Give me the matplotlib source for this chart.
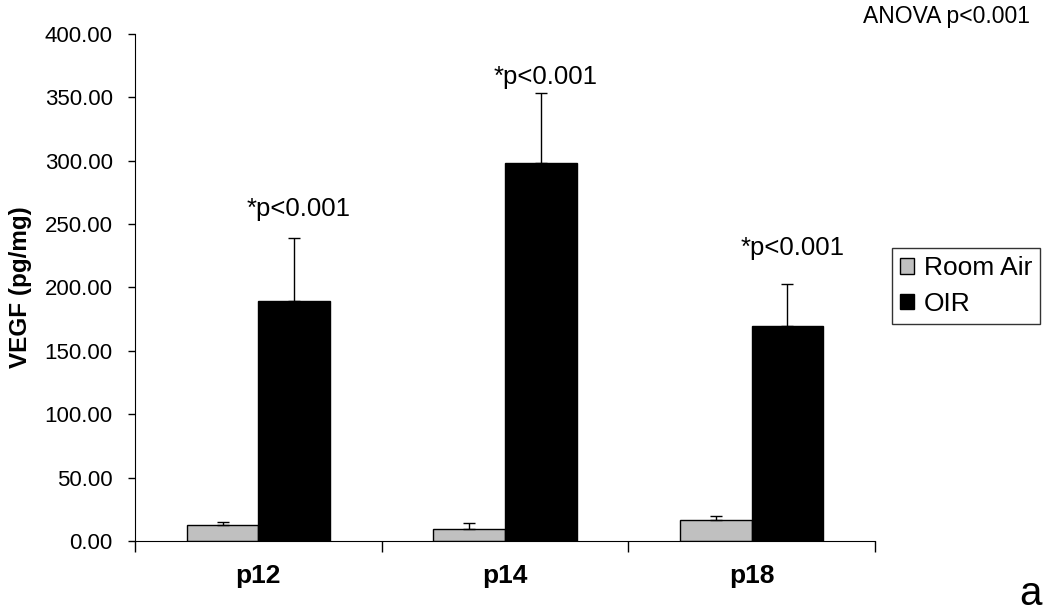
import matplotlib.pyplot as plt
import numpy as np

plt.rcParams['font.family'] = ['Liberation Sans', 'DejaVu Sans']

categories = ['p12', 'p14', 'p18']
room_air = [12.9, 9.2, 16.8]
room_air_err = [2.1, 4.8, 2.7]
oir = [189.6, 298.5, 169.8]
oir_err = [49.2, 55.2, 32.7]
sig_labels = ['*p<0.001', '*p<0.001', '*p<0.001']
sig_y = [262, 366, 231]
yticks = [0, 50, 100, 150, 200, 250, 300, 350, 400]

fig = plt.figure(figsize=(10.5, 6.11), dpi=100)
ax = fig.add_axes([0.1286, 0.1146, 0.7047, 0.8298])

x = np.arange(len(categories))
w = 0.29
ax.bar(x - w / 2, room_air, w, color='#c0c0c0', edgecolor='black', linewidth=1,
       label='Room Air', zorder=2)
ax.bar(x + w / 2, oir, w, color='black', edgecolor='black', linewidth=1,
       label='OIR', zorder=2)
ax.errorbar(x - w / 2, room_air, yerr=[np.zeros(3), room_air_err], fmt='none',
            ecolor='black', elinewidth=1, capsize=4, capthick=1, zorder=3)
ax.errorbar(x + w / 2, oir, yerr=[np.zeros(3), oir_err], fmt='none',
            ecolor='black', elinewidth=1, capsize=4, capthick=1, zorder=1)

for xi, lab, yy in zip(x, sig_labels, sig_y):
    ax.text(xi + w / 2 + 0.02, yy, lab, ha='center', va='center', fontsize=18.5)

ax.set_xlim(-0.5, 2.5)
ax.set_ylim(0, 400)
ax.set_yticks(yticks)
ax.set_yticklabels(['%.2f' % v for v in yticks], fontsize=16)
ax.set_xticks([-0.5, 0.5, 1.5, 2.5])
ax.set_xticklabels([])
ax.tick_params(axis='x', direction='out', length=8, width=1)
ax.tick_params(axis='y', direction='out', length=5, width=1, pad=11)
for xi, c in zip(x, categories):
    ax.text(xi, -0.045, c, transform=ax.get_xaxis_transform(), ha='center',
            va='top', fontsize=19, fontweight='bold')
ax.set_ylabel('VEGF (pg/mg)', fontsize=17.5, fontweight='bold', labelpad=9)
ax.spines['top'].set_visible(False)
ax.spines['right'].set_visible(False)

leg = ax.legend(loc='upper left', bbox_to_anchor=(0.8495, 0.594),
                bbox_transform=fig.transFigure, fontsize=19,
                frameon=True, fancybox=False, edgecolor='black',
                handlelength=0.55, handleheight=0.55, handletextpad=0.35,
                borderpad=0.3, borderaxespad=0, labelspacing=0.45)
leg.get_frame().set_linewidth(1)

fig.text(1030 / 1050, 1 - 17 / 611, 'ANOVA p<0.001', ha='right', va='center',
         fontsize=16.5)
fig.text(1042 / 1050, 1 - 594 / 611, 'a', ha='right', va='center', fontsize=29)

plt.savefig('out.png', dpi=100)
